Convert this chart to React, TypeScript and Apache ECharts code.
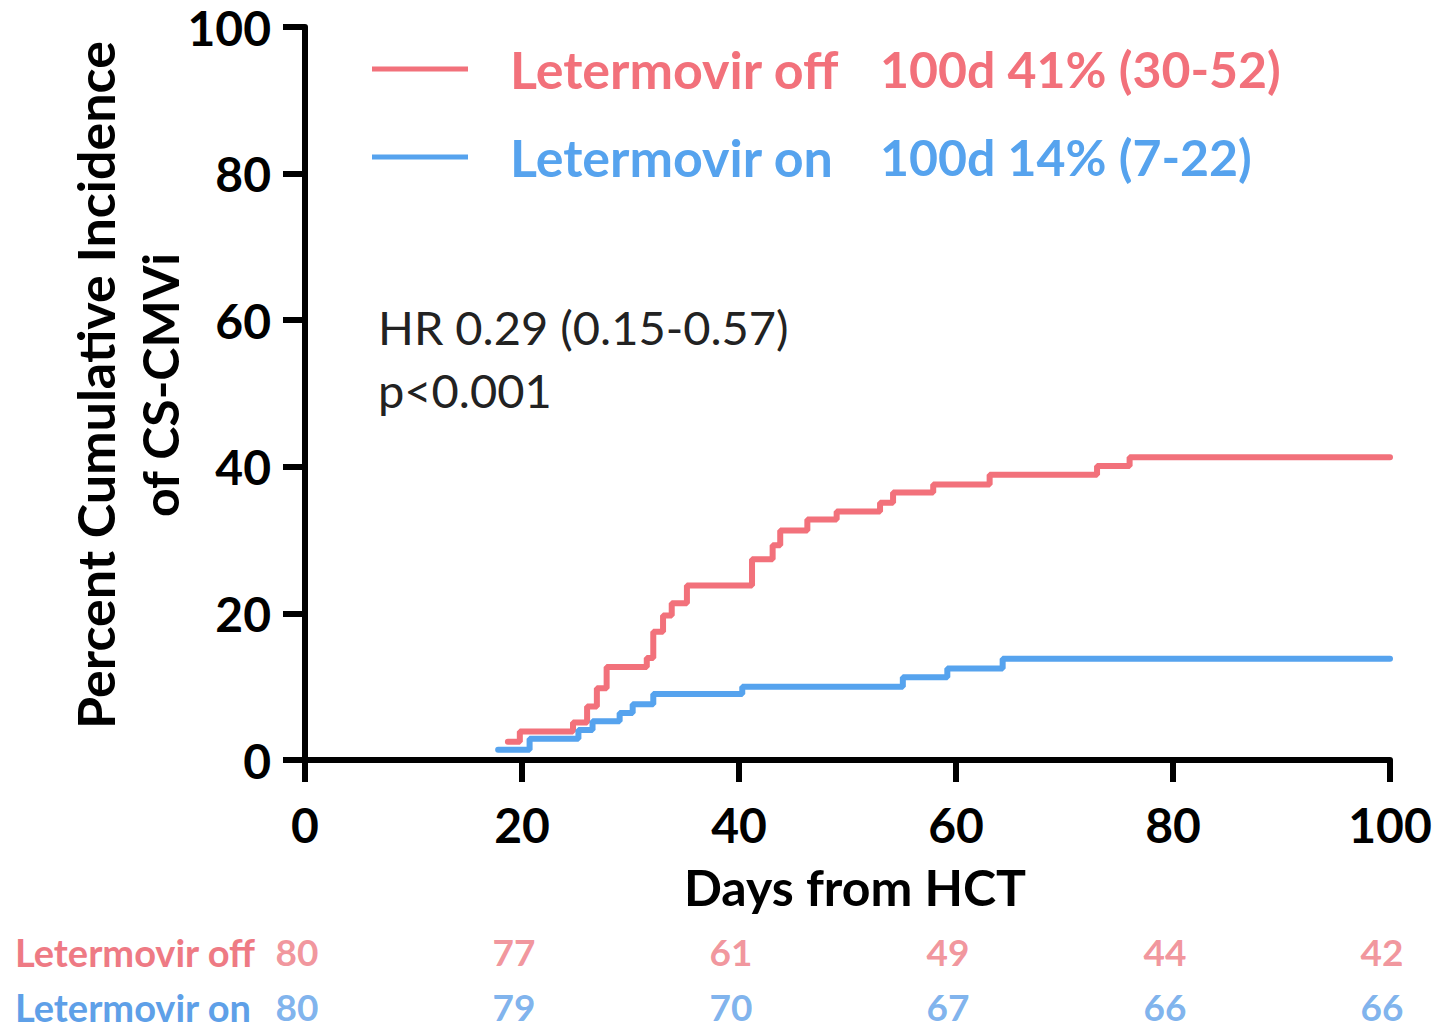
import React, { useEffect, useRef } from "react";
import * as echarts from "echarts";

const seriesNames = ["Letermovir off", "Letermovir on"];
const legendStats = ["100d 41% (30-52)", "100d 14% (7-22)"];
const seriesColors = ["#F2717B", "#56A3EE"];
const tableColors = ["#EE7A84", "#5EA0E8"];

// [day, cumulative incidence %]
const offCurve: [number, number][] = [
  [18.7, 2.5], [19.8, 3.9], [24.7, 5.1], [26.0, 7.3], [26.9, 9.8], [27.8, 12.7],
  [31.5, 13.9], [32.1, 17.5], [33.0, 19.7], [33.8, 21.4], [35.2, 23.8], [41.2, 27.4],
  [43.1, 29.3], [43.8, 31.3], [46.3, 32.8], [49.0, 33.9], [53.0, 35.1], [54.2, 36.5],
  [57.9, 37.6], [63.1, 38.9], [73.0, 40.1], [76.0, 41.3], [100, 41.3],
];
const onCurve: [number, number][] = [
  [17.8, 1.4], [20.7, 2.9], [25.2, 4.1], [26.5, 5.3], [29.0, 6.4], [30.2, 7.6],
  [32.1, 9.0], [40.3, 10.0], [55.1, 11.3], [59.2, 12.5], [64.3, 13.8], [100, 13.8],
];

const riskDays = [0, 20, 40, 60, 80, 100];
const riskOff = [80, 77, 61, 49, 44, 42];
const riskOn = [80, 79, 70, 67, 66, 66];

const xTicks = { min: 0, max: 100, interval: 20 };
const yTicks = { min: 0, max: 100, interval: 20 };

const hrText = "HR 0.29 (0.15-0.57)";
const pText = "p<0.001";
const xTitle = "Days from HCT";
const yTitle1 = "Percent Cumulative Incidence";
const yTitle2 = "of CS-CMVi";

const FONT = "Lato";

export default function App() {
  const ref = useRef<HTMLDivElement>(null);
  useEffect(() => {
    if (!ref.current) return;
    const chart = echarts.init(ref.current, null, { renderer: "svg" });
    const axisLineStyle = { color: "#000", width: 6 };
    const tickLabel = { fontFamily: FONT, fontWeight: "bold", fontSize: 48, lineHeight: 36, color: "#000" };
    const option: any = {
      animation: false,
      backgroundColor: "#fff",
      grid: [
        { left: 305, right: 45, top: 27, bottom: 274 },
        { left: 305, right: 45, top: 924, height: 124 },
      ],
      xAxis: [
        {
          type: "value",
          gridIndex: 0,
          ...xTicks,
          axisLine: { show: true, onZero: false, lineStyle: axisLineStyle },
          axisTick: { show: true, length: 22, lineStyle: { color: "#000", width: 6 } },
          axisLabel: { margin: 46, ...tickLabel },
          splitLine: { show: false },
        },
        { type: "value", gridIndex: 1, ...xTicks, show: false },
      ],
      yAxis: [
        {
          type: "value",
          gridIndex: 0,
          ...yTicks,
          axisLine: { show: true, onZero: false, lineStyle: axisLineStyle },
          axisTick: { show: true, length: 22, lineStyle: { color: "#000", width: 6 } },
          axisLabel: { margin: 34, ...tickLabel },
          splitLine: { show: false },
        },
        {
          type: "category",
          gridIndex: 1,
          inverse: true,
          data: seriesNames,
          axisLine: { show: false },
          axisTick: { show: false },
          axisLabel: {
            align: "left",
            margin: 290,
            formatter: (v: string) => (v === seriesNames[0] ? `{r|${v}}` : `{b|${v}}`),
            rich: {
              r: { color: tableColors[0], fontFamily: FONT, fontWeight: "bold", fontSize: 38 },
              b: { color: tableColors[1], fontFamily: FONT, fontWeight: "bold", fontSize: 38 },
            },
          },
        },
      ],
      legend: {
        left: 367,
        top: 35,
        orient: "vertical",
        itemWidth: 96,
        itemHeight: 5,
        itemGap: 30,
        icon: "rect",
        data: seriesNames.map((n, i) => ({ name: n, textStyle: { color: seriesColors[i] } })),
        formatter: (name: string) => {
          const i = seriesNames.indexOf(name);
          return `{a|${name}}{s|${legendStats[i]}}`;
        },
        textStyle: {
          fontFamily: FONT,
          fontWeight: "bold",
          fontSize: 52,
          lineHeight: 58,
          rich: {
            a: { fontFamily: FONT, fontWeight: "bold", fontSize: 52, width: 370, padding: [0, 0, 0, 37], lineHeight: 58 },
            s: { fontFamily: FONT, fontWeight: "bold", fontSize: 50, lineHeight: 58 },
          },
        },
      },
      series: [
        {
          name: seriesNames[0],
          type: "line",
          step: "end",
          xAxisIndex: 0,
          yAxisIndex: 0,
          data: offCurve,
          showSymbol: false,
          symbol: "none",
          lineStyle: { color: seriesColors[0], width: 6, cap: "round" },
          itemStyle: { color: seriesColors[0] },
          z: 3,
        },
        {
          name: seriesNames[1],
          type: "line",
          step: "end",
          xAxisIndex: 0,
          yAxisIndex: 0,
          data: onCurve,
          showSymbol: false,
          symbol: "none",
          lineStyle: { color: seriesColors[1], width: 6, cap: "round" },
          itemStyle: { color: seriesColors[1] },
          z: 4,
        },
        ...[riskOff, riskOn].map((arr, si) => ({
          type: "scatter",
          xAxisIndex: 1,
          yAxisIndex: 1,
          symbolSize: 1,
          itemStyle: { color: "rgba(0,0,0,0)" },
          data: riskDays.map((d, i) => [d, seriesNames[si], arr[i]]),
          label: {
            show: true,
            position: "inside",
            offset: [-8, 0],
            formatter: (p: any) => String(p.value[2]),
            color: tableColors[si],
            fontFamily: FONT,
            fontWeight: "bold",
            fontSize: 37,
          },
        })),
      ],
      graphic: [
        {
          type: "text",
          x: 378,
          y: 327,
          style: { text: hrText, fontFamily: FONT, fontSize: 47, fill: "#222", verticalAlign: "middle", align: "left" },
        },
        {
          type: "text",
          x: 378,
          y: 390,
          style: { text: pText, fontFamily: FONT, fontSize: 47, fill: "#222", verticalAlign: "middle", align: "left" },
        },
        {
          type: "text",
          x: 855,
          y: 887,
          style: { text: xTitle, fontFamily: FONT, fontWeight: "bold", fontSize: 50, fill: "#000", verticalAlign: "middle", align: "center" },
        },
        {
          type: "text",
          x: 95,
          y: 385,
          rotation: Math.PI / 2,
          style: { text: yTitle1, fontFamily: FONT, fontWeight: "bold", fontSize: 52, fill: "#000", verticalAlign: "middle", align: "center" },
        },
        {
          type: "text",
          x: 160,
          y: 385,
          rotation: Math.PI / 2,
          style: { text: yTitle2, fontFamily: FONT, fontWeight: "bold", fontSize: 50, fill: "#000", verticalAlign: "middle", align: "center" },
        },
      ],
    };
    chart.setOption(option);
    return () => chart.dispose();
  }, []);
  return (
    <div
      ref={ref}
      style={{ position: "absolute", left: 0, top: 0, width: 1435, height: 1034, background: "#fff" }}
    />
  );
}
